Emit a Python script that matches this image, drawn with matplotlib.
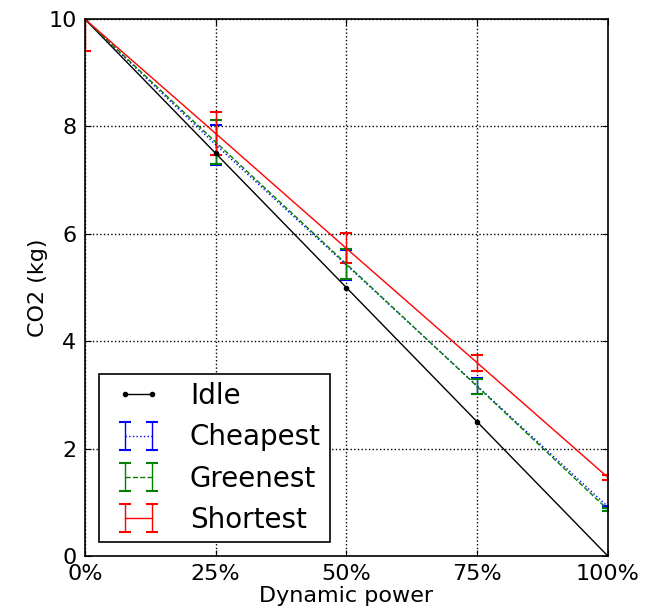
import matplotlib
matplotlib.use("Agg")
import matplotlib.pyplot as plt
from matplotlib.patches import Rectangle

x = [0, 25, 50, 75, 100]
xtick_labels = ["0%", "25%", "50%", "75%", "100%"]

idle = [10.0, 7.5, 5.0, 2.5, 0.0]
cheapest = [10.0, 7.66, 5.42, 3.17, 0.92]
cheapest_err = [0.0, 0.37, 0.28, 0.15, 0.02]
greenest = [10.0, 7.71, 5.44, 3.16, 0.865]
greenest_err = [0.0, 0.41, 0.28, 0.14, 0.025]
shortest = [10.0, 7.87, 5.73, 3.60, 1.465]
shortest_err = [0.59, 0.40, 0.28, 0.15, 0.045]

plt.rcParams.update({
    "xtick.direction": "in", "ytick.direction": "in",
    "xtick.top": True, "ytick.right": True,
    "xtick.major.size": 4, "ytick.major.size": 4,
    "xtick.major.pad": 6, "ytick.major.pad": 6,
    "font.size": 16,
})

fig = plt.figure(figsize=(6.48, 6.06), dpi=100)
ax = fig.add_axes([0.131, 0.0825, 0.807, 0.886])

ax.errorbar(x, cheapest, yerr=cheapest_err, color="blue", ls=":", lw=1,
            capsize=4, capthick=1.5, label="Cheapest")
ax.errorbar(x, greenest, yerr=greenest_err, color="green", ls="--", lw=1,
            capsize=4, capthick=1.5, label="Greenest")
ax.errorbar(x, shortest, yerr=shortest_err, color="red", ls="-", lw=1,
            capsize=4, capthick=1.5, label="Shortest")
ax.plot(x, idle, color="black", marker=".", ms=6, lw=1, label="Idle")

ax.set_xlim(0, 100)
ax.set_ylim(0, 10)
ax.set_xticks(x)
ax.set_xticklabels(xtick_labels)
ax.set_yticks([0, 2, 4, 6, 8, 10])
ax.tick_params(labelsize=16)
ax.grid(True, color="black", ls=":", lw=1)
for s in ax.spines.values():
    s.set_linewidth(1.2)

ax.set_xlabel("Dynamic power", fontsize=16, labelpad=1)
ax.set_ylabel("CO2 (kg)", fontsize=16, labelpad=0)

# legend frame (box drawn separately so its padding can match the reference)
ax.add_patch(Rectangle((0.0268, 0.026), 0.4417, 0.3128, transform=ax.transAxes,
                       facecolor="white", edgecolor="black", lw=1.2, zorder=4.5))

h, l = ax.get_legend_handles_labels()
leg = ax.legend(h, l,
                loc="center left", bbox_to_anchor=(0.0612, 0.1825), borderaxespad=0,
                fontsize=20, numpoints=2, handlelength=1.55, handletextpad=1.08,
                labelspacing=0.48, frameon=False, borderpad=0)
leg.set_zorder(5)

fig.savefig("out.png", dpi=100)
